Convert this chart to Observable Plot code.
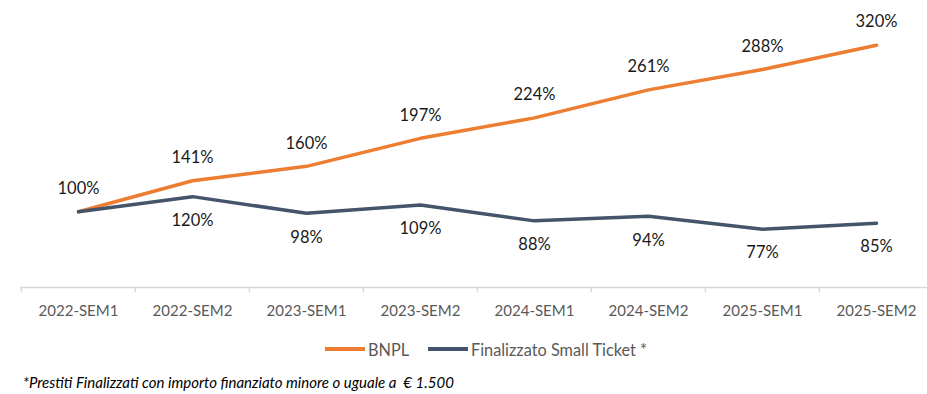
<!DOCTYPE html>
<html><head><meta charset="utf-8">
<script src="https://cdn.jsdelivr.net/npm/d3@7"></script>
<script src="https://cdn.jsdelivr.net/npm/@observablehq/plot@0.6"></script>
<style>
body{margin:0;background:#fff;font-family:Lato,"Open Sans",sans-serif;}
#wrap{position:relative;width:927px;height:394px;overflow:hidden;}
#chart svg{display:block;overflow:visible;}
.leg{position:absolute;top:339px;height:20px;display:flex;align-items:center;font-size:16.3px;color:#595959;white-space:nowrap;}
.sw{display:inline-block;width:40px;height:4px;margin-right:3px;}
#caption{position:absolute;left:23px;top:373px;font-size:15px;font-style:italic;color:#000;white-space:nowrap;}
</style></head><body>
<div id="wrap">
<div id="chart"></div>
<div class="leg" id="leg1" style="left:325px"></div>
<div class="leg" id="leg2" style="left:428px"></div>
<div id="caption">*Prestiti Finalizzati con importo finanziato minore o uguale a &nbsp;€ 1.500</div>
</div>
<script>
const categories = ["2022-SEM1","2022-SEM2","2023-SEM1","2023-SEM2","2024-SEM1","2024-SEM2","2025-SEM1","2025-SEM2"];
const bnpl = [100,141,160,197,224,261,288,320];
const smallTicket = [100,120,98,109,88,94,77,85];
const seriesNames = ["BNPL","Finalizzato Small Ticket *"];
const colors = ["#ED7D31","#44546A"];

const data = categories.flatMap((c,i)=>[
  {cat:c, series:seriesNames[0], value:bnpl[i], idx:i},
  {cat:c, series:seriesNames[1], value:smallTicket[i], idx:i}
]);
const xRange = [20, 934];
const bw = (xRange[1]-xRange[0]) / categories.length;

const plot = Plot.plot({
  width:927, height:320, marginLeft:20, marginRight:0, marginTop:22, marginBottom:33,
  style:{fontFamily:"Lato, 'Open Sans', sans-serif", fontSize:"15px", color:"#595959", background:"#fff", overflow:"visible"},
  x:{type:"point", domain:categories, range:xRange, padding:0.5, label:null, tickSize:0, tickPadding:18},
  y:{domain:[0,350], axis:null},
  color:{domain:seriesNames, range:colors},
  marks:[
    Plot.ruleY([0], {stroke:"#d9d9d9", strokeWidth:1.5}),
    Plot.ruleX(categories, {x:d=>d, y1:0, y2:-7, dx:-bw/2, stroke:"#d9d9d9", strokeWidth:1.5}),
    Plot.line(data, {x:"cat", y:"value", z:"series", stroke:"series", strokeWidth:3.5, strokeLinecap:"round", strokeLinejoin:"round"}),
    Plot.text(data.filter(d=>d.series===seriesNames[0]), {x:"cat", y:"value", text:d=>d.value+"%", dy:-23, fill:"#1a1a1a", fontSize:16.5}),
    Plot.text(data.filter(d=>d.series===seriesNames[1] && d.idx>0), {x:"cat", y:"value", text:d=>d.value+"%", dy:24, fill:"#1a1a1a", fontSize:16.5})
  ]
});
document.getElementById("chart").appendChild(plot);

["leg1","leg2"].forEach((id,i)=>{
  const el = document.getElementById(id);
  el.innerHTML = `<span class="sw" style="background:${colors[i]}"></span><span>${seriesNames[i]}</span>`;
});
</script>
</body></html>
